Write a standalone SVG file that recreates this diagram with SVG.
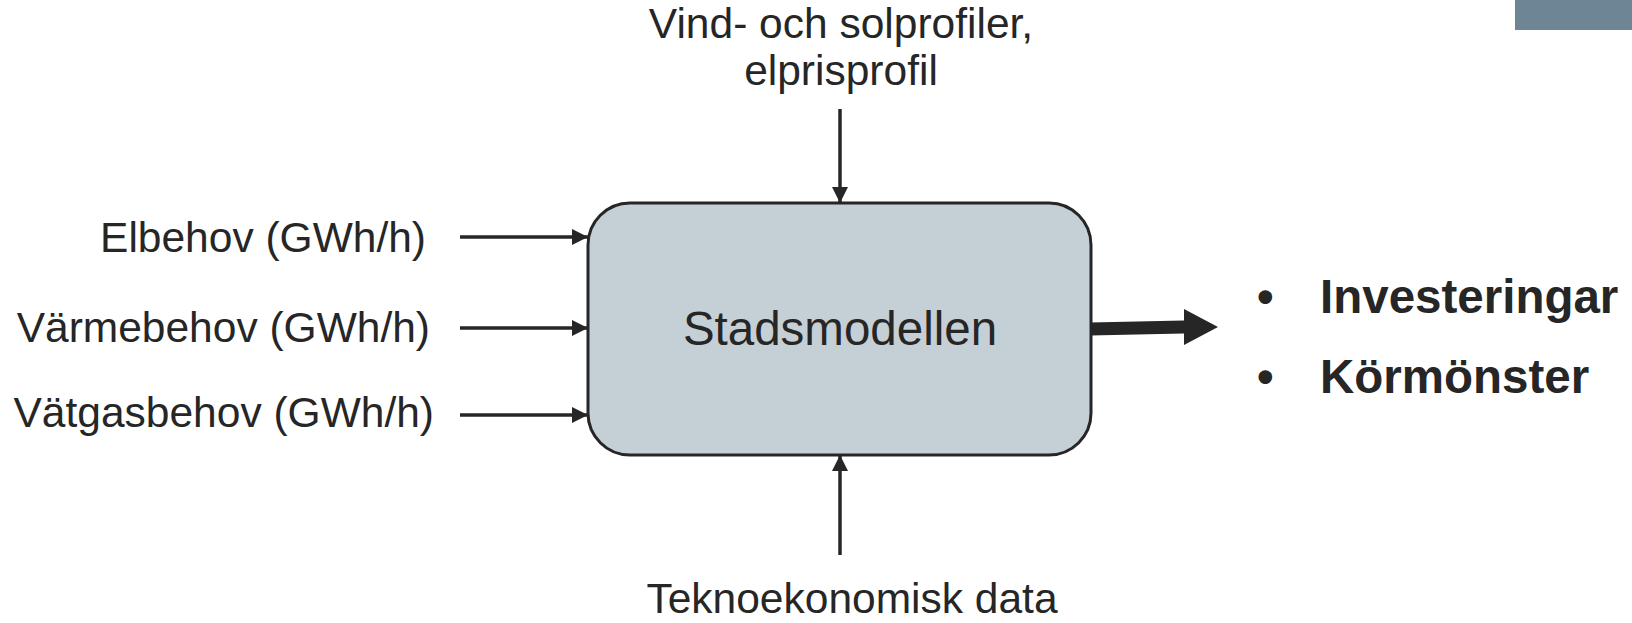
<svg xmlns="http://www.w3.org/2000/svg" width="1632" height="623" viewBox="0 0 1632 623">
<style>
text{font-family:"Liberation Sans",Arial,sans-serif;fill:#262626}
.lbl{font-size:42.5px}
.big{font-size:47.5px}
.bold{font-size:47.5px;font-weight:bold}
.conn{stroke:#262626;stroke-width:3.5;fill:none}
</style>
<defs>
<marker id="ah" markerUnits="userSpaceOnUse" markerWidth="16" markerHeight="16" refX="16" refY="8" orient="auto">
<path d="M0,0 L16,8 L0,16 z" fill="#262626"/>
</marker>
</defs>
<rect x="1515" y="0" width="117" height="30" fill="#6e8596"/>
<g id="model">
<rect x="588" y="203" width="503" height="252" rx="42" ry="42" fill="#c5cfd6" stroke="#262626" stroke-width="3"/>
<text class="big" x="840" y="345" text-anchor="middle">Stadsmodellen</text>
</g>
<g id="in-top"><text class="lbl" x="841" y="38" text-anchor="middle">Vind- och solprofiler,</text><text class="lbl" x="841" y="85" text-anchor="middle">elprisprofil</text></g>
<g id="in-el"><text class="lbl" x="426" y="252" text-anchor="end">Elbehov (GWh/h)</text></g>
<g id="in-heat"><text class="lbl" x="430" y="342" text-anchor="end">Värmebehov (GWh/h)</text></g>
<g id="in-h2"><text class="lbl" x="434" y="427" text-anchor="end">Vätgasbehov (GWh/h)</text></g>
<g id="in-bottom"><text class="lbl" x="852" y="613" text-anchor="middle">Teknoekonomisk data</text></g>
<g id="outputs">
<text class="bold" x="1257" y="313">•</text><text class="bold" x="1320" y="313">Investeringar</text>
<text class="bold" x="1257" y="393">•</text><text class="bold" x="1320" y="393">Körmönster</text>
</g>
<g id="connectors">
<line class="conn" x1="460" y1="237" x2="588" y2="237" marker-end="url(#ah)"/>
<line class="conn" x1="460" y1="328" x2="588" y2="328" marker-end="url(#ah)"/>
<line class="conn" x1="460" y1="415" x2="588" y2="415" marker-end="url(#ah)"/>
<line class="conn" x1="840" y1="109" x2="840" y2="203" marker-end="url(#ah)"/>
<line class="conn" x1="840" y1="555" x2="840" y2="455" marker-end="url(#ah)"/>
<polygon points="1090,322.5 1184,320.5 1184,309 1218,327 1184,345 1184,333.5 1090,335.5" fill="#262626"/>
</g>
</svg>
